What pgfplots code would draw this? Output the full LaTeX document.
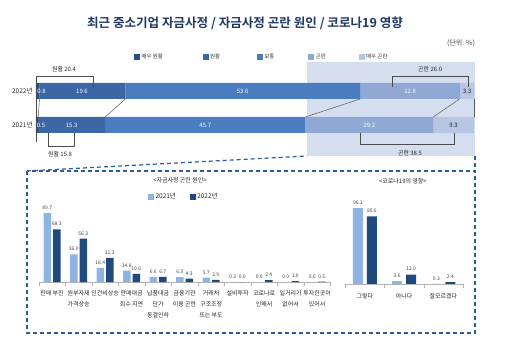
\documentclass[border=0pt]{standalone}
\usepackage{fontspec}
\setmainfont{Noto Sans CJK KR}[BoldFont={Noto Sans CJK KR Bold}]
\usepackage{pgfplots}
\pgfplotsset{compat=1.18}
\definecolor{cA}{HTML}{264F8E}
\definecolor{cB}{HTML}{3B67A5}
\definecolor{cC}{HTML}{4A7DBF}
\definecolor{cD}{HTML}{8FA8D4}
\definecolor{cE}{HTML}{B7C6E2}
\definecolor{shadec}{HTML}{D4DEEE}
\definecolor{y21}{HTML}{8DB4E2}
\definecolor{y22}{HTML}{1F4A7E}
\definecolor{framec}{HTML}{2E5A9A}
\definecolor{titlec}{HTML}{1F3864}
\pgfplotsset{
  topax/.style={scale only axis, width=438bp, height=68bp, xmin=0, xmax=100,
    ymin=-0.5, ymax=1.5, clip=false, at={(36bp,203bp)}, anchor=south west,
    axis line style={draw=none}, tick style={draw=none}},
  sq/.style={legend image code/.code={\fill[#1] (0bp,-2.5bp) rectangle (5bp,2.5bp);}},
}
\begin{document}
\begin{tikzpicture}
\path[use as bounding box] (0bp,0bp) rectangle (512bp,345bp);
% title
\node[font=\bfseries\fontsize{12.6}{14}\selectfont, text=titlec] at (245bp,322bp) {최근 중소기업 자금사정 / 자금사정 곤란 원인 / 코로나19 영향};
\node[font=\fontsize{7}{8}\selectfont, text=black!75] at (461bp,302bp) {(단위: \%)};

% shaded background
\begin{axis}[topax, xtick=\empty, ytick=\empty]
\fill[shadec] (axis cs:61.9,1.853) rectangle (axis cs:100.2,-0.912);
\end{axis}

% stacked bars
\begin{axis}[topax, xbar stacked, bar width=16bp, xtick=\empty, ytick={0,1},
  yticklabels={2021년,2022년}, yticklabel style={font=\fontsize{6.5}{8}\selectfont, text=black!85}]
\addplot[fill=cA, draw=none] coordinates {(0.5,0) (0.8,1)};
\addplot[fill=cB, draw=none] coordinates {(15.3,0) (19.6,1)};
\addplot[fill=cC, draw=none] coordinates {(45.7,0) (53.6,1)};
\addplot[fill=cD, draw=none] coordinates {(29.2,0) (22.8,1)};
\addplot[fill=cE, draw=none] coordinates {(9.3,0) (3.3,1)};
\end{axis}

% labels, brackets, legend
\begin{axis}[topax, xtick=\empty, ytick=\empty,
  legend style={at={(rel axis cs:0.217,1.25)}, anchor=west, draw=none, fill=none,
    font=\fontsize{5.5}{6}\selectfont, text=black!80, legend columns=5,
    /tikz/every even column/.append style={column sep=0bp}},
  legend cell align=left]
\addlegendimage{sq=cA}\addlegendentry{\makebox[59bp][l]{매우 원활}}
\addlegendimage{sq=cB}\addlegendentry{\makebox[45bp][l]{원활}}
\addlegendimage{sq=cC}\addlegendentry{\makebox[42bp][l]{보통}}
\addlegendimage{sq=cD}\addlegendentry{\makebox[41bp][l]{곤란}}
\addlegendimage{sq=cE}\addlegendentry{매우 곤란}
\addplot[draw=none, mark=none, nodes near coords, point meta=explicit symbolic,
  every node near coord/.append style={anchor=center, font=\fontsize{6}{7}\selectfont, text=white}]
  table[meta=l] {
x y l
1.25 1 0.8
10.5 1 19.6
47.2 1 53.6
85.4 1 22.8
1.14 0 0.5
8.15 0 15.3
38.65 0 45.7
76.1 0 29.2
};
\addplot[draw=none, mark=none, nodes near coords, point meta=explicit symbolic,
  every node near coord/.append style={anchor=center, font=\fontsize{6}{7}\selectfont, text=black!85}]
  table[meta=l] {
x y l
98.45 1 3.3
95.35 0 9.3
};
% connectors
\draw[black!65, line width=0.5bp] (axis cs:0.8,0.765) -- (axis cs:0.5,0.235);
\draw[black!65, line width=0.5bp] (axis cs:20.4,0.765) -- (axis cs:15.8,0.235);
\draw[black!65, line width=0.5bp] (axis cs:74.0,0.765) -- (axis cs:61.5,0.235);
\draw[black!65, line width=0.5bp] (axis cs:96.7,0.765) -- (axis cs:90.7,0.235);
\draw[black!65, line width=0.5bp] (axis cs:100,0.765) -- (axis cs:100,0.235);
% brackets
\draw[black!70, line width=0.6bp] (axis cs:0,-0.5) -- (axis cs:0,1.441) -- (axis cs:13,1.441) -- (axis cs:13,1.09);
\node[font=\fontsize{6}{7}\selectfont, text=black!85] at (axis cs:6.4,1.647) {원활 20.4};
\draw[black!70, line width=0.6bp] (axis cs:2.74,-0.235) -- (axis cs:2.74,-0.618) -- (axis cs:8.68,-0.618) -- (axis cs:8.68,-0.235);
\node[font=\fontsize{6}{7}\selectfont, text=black!85] at (axis cs:5.5,-0.853) {원활 15.8};
\draw[black!70, line width=0.6bp] (axis cs:81.3,1.118) -- (axis cs:81.3,1.441) -- (axis cs:98.6,1.441) -- (axis cs:98.6,1.118);
\node[font=\fontsize{6}{7}\selectfont, text=black!85] at (axis cs:90,1.647) {곤란 26.0};
\draw[black!70, line width=0.6bp] (axis cs:74.0,-0.235) -- (axis cs:74.0,-0.559) -- (axis cs:95.4,-0.559) -- (axis cs:95.4,-0.235);
\node[font=\fontsize{6}{7}\selectfont, text=black!85] at (axis cs:85.4,-0.824) {곤란 38.5};
\end{axis}

% dashed frame
\draw[framec, line width=1.2bp, dash pattern=on 4bp off 3bp] (27bp,174bp) -- (307bp,189bp);
\draw[framec, line width=1.2bp, dash pattern=on 4bp off 3bp] (475bp,189bp) -- (475bp,174bp);
\draw[framec, line width=1.2bp, dash pattern=on 4bp off 3bp] (27bp,174bp) rectangle (475bp,12bp);

% bottom left chart
\begin{axis}[scale only axis, width=291.5bp, height=77bp, at={(38.75bp,63bp)}, anchor=south west,
  xmin=-0.5, xmax=10.5, ymin=0, ymax=100, clip=false,
  axis x line=bottom, axis y line=none, x axis line style={-, draw=black!30},
  ybar, bar width=7.5bp, xtick={0,...,10}, ytick=\empty, major tick length=0,
  xticklabels={판매 부진, 원부자재\\가격상승, 인건비상승, 판매대금\\회수 지연, 납품대금\\단가\\동결인하, 금융기관\\이용 곤란, 거래처\\구조조정\\또는 부도, 설비투자, 코로나로\\인해서, 일거리가\\없어서, 투자한곳이\\있어서},
  xticklabel style={align=center, font=\fontsize{6}{11}\selectfont, text=black!85, yshift=-5bp},
  extra x ticks={-0.5,0.5,...,10.5}, extra x tick labels={},
  extra x tick style={major tick length=4bp, tick align=outside, tick style={draw=black!30}},
  nodes near coords, every node near coord/.append style={font=\fontsize{5}{6}\selectfont, text=black!75},
  /pgf/number format/fixed, /pgf/number format/fixed zerofill, /pgf/number format/precision=1,
  /pgf/number format/assume math mode=true,
  legend style={at={(rel axis cs:0.498,1.104)}, anchor=center, draw=none, fill=none,
    font=\fontsize{6.5}{7}\selectfont, text=black!85, legend columns=2,
    /tikz/every even column/.append style={column sep=12bp}}]
\addlegendimage{sq=y21}\addlegendentry{2021년}
\addlegendimage{sq=y22}\addlegendentry{2022년}
\addplot[fill=y21, draw=none, bar shift=-4.75bp, forget plot] coordinates {(0,89.7) (1,36.0) (2,18.4) (3,14.8) (4,6.6) (5,6.3) (6,5.7) (7,0.3) (8,0.0) (9,0.0) (10,0.0)};
\addplot[fill=y22, draw=none, bar shift=4.75bp, forget plot] coordinates {(0,68.3) (1,56.3) (2,31.3) (3,10.6) (4,6.7) (5,4.3) (6,2.9) (7,0.0) (8,2.4) (9,1.0) (10,0.5)};
\node[font=\fontsize{6}{7}\selectfont, text=black!85] at (rel axis cs:0.4845,1.325) {<자금사정 곤란 원인>};
\end{axis}

% bottom right chart
\begin{axis}[scale only axis, width=117.7bp, height=79bp, at={(345.3bp,61bp)}, anchor=south west,
  xmin=-0.5, xmax=2.5, ymin=0, ymax=100, clip=false,
  axis x line=bottom, axis y line=none, x axis line style={-, draw=black!30},
  ybar, bar width=10bp, xtick={0,1,2}, ytick=\empty, major tick length=0,
  xticklabels={그렇다, 아니다, 잘모르겠다},
  xticklabel style={align=center, font=\fontsize{6}{11}\selectfont, text=black!85, yshift=-6bp},
  extra x ticks={-0.5,0.5,1.5,2.5}, extra x tick labels={},
  extra x tick style={major tick length=4bp, tick align=outside, tick style={draw=black!30}},
  nodes near coords, every node near coord/.append style={font=\fontsize{5}{6}\selectfont, text=black!75},
  /pgf/number format/fixed, /pgf/number format/fixed zerofill, /pgf/number format/precision=1,
  /pgf/number format/assume math mode=true]
\addplot[fill=y21, draw=none, bar shift=-7bp] coordinates {(0,96.1) (1,3.6) (2,0.3)};
\addplot[fill=y22, draw=none, bar shift=7bp] coordinates {(0,85.6) (1,12.0) (2,2.4)};
\node[font=\fontsize{6}{7}\selectfont, text=black!85] at (rel axis cs:0.49,1.30) {<코로나19의 영향>};
\end{axis}
\end{tikzpicture}
\end{document}
